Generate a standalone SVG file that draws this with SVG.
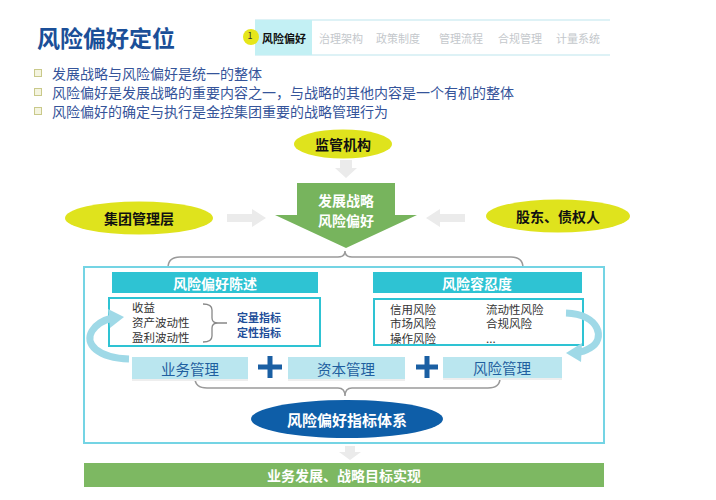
<svg xmlns="http://www.w3.org/2000/svg" width="716" height="500" viewBox="0 0 716 500">
<style>
text{font-family:"Noto Sans CJK SC","Noto Sans",sans-serif;dominant-baseline:central}
.t{font-size:23px;font-weight:bold;fill:#1b4f98}
.tab{font-size:11px;fill:#c4c8cc;text-anchor:middle}
.bul{font-size:14px;fill:#35549a}
.bsq{fill:#f4f4e0;stroke:#c9c98a;stroke-width:1}
.yel{fill:#dfe31d}
.yt{font-size:14px;font-weight:bold;fill:#111;text-anchor:middle}
.garr{fill:#ebebeb}
.wt{font-weight:bold;fill:#fff;text-anchor:middle}
.hdr{fill:#2ec3d3}
.cbox{fill:#fff;stroke:#2ec3d3;stroke-width:2}
.ct{font-size:11.5px;fill:#333}
.ind{font-size:11px;font-weight:bold;fill:#1f4e9a}
.lb{fill:#bae6ef}
.lbt{font-size:14.5px;fill:#1f5f9f;text-anchor:middle}
.plus{fill:#1a5fa3}
.brace{fill:none;stroke:#9a9a9a;stroke-width:1.5}
.curl{fill:none;stroke:#9fd9e7;stroke-width:7}
.curlh{fill:#9fd9e7}
</style>
<g id="title"><text class="t" x="37" y="37">风险偏好定位</text></g>
<g id="tabs">
<line x1="255" y1="20" x2="610" y2="20" stroke="#d3eef3" stroke-width="1.5"/>
<line x1="255" y1="55" x2="610" y2="55" stroke="#d3eef3" stroke-width="1.5"/>
<rect x="255" y="20" width="57" height="35" fill="#c3f0f4"/>
<circle cx="251" cy="37" r="8" fill="#e6e61a"/>
<text x="250" y="35" font-size="9" fill="#333" text-anchor="middle">1</text>
<text x="284" y="38" font-size="11" font-weight="bold" fill="#111" text-anchor="middle">风险偏好</text>
<text class="tab" x="341" y="38">治理架构</text>
<text class="tab" x="398" y="38">政策制度</text>
<text class="tab" x="461" y="38">管理流程</text>
<text class="tab" x="520" y="38">合规管理</text>
<text class="tab" x="578" y="38">计量系统</text>
</g>
<g id="bullets">
<rect class="bsq" x="34.5" y="69.5" width="7" height="7"/>
<rect class="bsq" x="34.5" y="88.5" width="7" height="7"/>
<rect class="bsq" x="34.5" y="107.5" width="7" height="7"/>
<text class="bul" x="52" y="73">发展战略与风险偏好是统一的整体</text>
<text class="bul" x="52" y="92">风险偏好是发展战略的重要内容之一，与战略的其他内容是一个有机的整体</text>
<text class="bul" x="52" y="111">风险偏好的确定与执行是金控集团重要的战略管理行为</text>
</g>
<g id="connectors">
<polygon class="garr" points="340,160 352,160 352,168 357,168 346,178 335,168 340,168"/>
<polygon class="garr" points="227,214 252,214 252,209 266,218 252,227 252,222 227,222"/>
<polygon class="garr" points="465,214 440,214 440,209 426,218 440,227 440,222 465,222"/>
<path class="brace" d="M168 268 Q168 257 180 257 L338 257 Q345 257 345 251 Q345 257 352 257 L511 257 Q523 257 523 268"/>
<polygon class="garr" points="345,446 355,446 355,452 361,452 350,460 339,452 345,452"/>
</g>
<g id="n-regulator"><ellipse class="yel" cx="343" cy="144" rx="49" ry="14.5"/><text class="yt" x="343" y="144">监管机构</text></g>
<g id="n-mgmt"><ellipse class="yel" cx="139" cy="218" rx="74" ry="16.5"/><text class="yt" x="139" y="218">集团管理层</text></g>
<g id="n-holders"><ellipse class="yel" cx="558" cy="216" rx="72" ry="16.5"/><text class="yt" x="558" y="216">股东、债权人</text></g>
<g id="n-strategy">
<polygon points="297,183 395,183 395,215 417,215 346,248 275,215 297,215" fill="#77b45d"/>
<text class="wt" x="346" y="200" font-size="14"><tspan x="346">发展战略</tspan><tspan x="346" dy="19.5">风险偏好</tspan></text>
</g>
<g id="frame">
<rect x="84" y="267" width="520" height="176" fill="#fff" stroke="#74d4e4" stroke-width="2"/>
<path class="brace" d="M195 378 Q195 388 207 388 L338 388 Q345 388 345 396 Q345 388 352 388 L488 388 Q500 388 500 378"/>
</g>
<g id="n-statement">
<rect class="hdr" x="112" y="272" width="206" height="21"/>
<text class="wt" x="215" y="283" font-size="14">风险偏好陈述</text>
<rect class="cbox" x="109" y="298" width="211" height="48"/>
<text class="ct" x="132" y="307"><tspan x="132">收益</tspan><tspan x="132" dy="15">资产波动性</tspan><tspan x="132" dy="15">盈利波动性</tspan></text>
<path d="M203 304 Q212 304 212 310 L212 318 Q212 323 218 323 L227 323 M218 323 Q212 323 212 328 L212 336 Q212 342 203 342" fill="none" stroke="#888" stroke-width="1.3"/>
<text class="ind" x="237" y="316.5"><tspan x="237">定量指标</tspan><tspan x="237" dy="15.5">定性指标</tspan></text>
</g>
<g id="n-tolerance">
<rect class="hdr" x="373" y="272" width="209" height="21"/>
<text class="wt" x="477" y="283" font-size="14">风险容忍度</text>
<rect class="cbox" x="374" y="299" width="209" height="46"/>
<text class="ct" x="390" y="308.5"><tspan x="390">信用风险</tspan><tspan x="390" dy="14.5">市场风险</tspan><tspan x="390" dy="14.5">操作风险</tspan></text>
<text class="ct" x="486" y="308.5"><tspan x="486">流动性风险</tspan><tspan x="486" dy="14.5">合规风险</tspan><tspan x="486" dy="14.5">...</tspan></text>
</g>
<g id="curl-left">
<path class="curl" d="M129 359 C98 358 84 344 92 331 C97 323 104 320 112 318"/>
<polygon class="curlh" points="108,309 124,317 110,328"/>
</g>
<g id="curl-right">
<path class="curl" d="M566 313 C600 314 606 340 590 348 C585 351 580 352 578 352"/>
<polygon class="curlh" points="582,343 566,353 581,362"/>
</g>
<g id="n-business"><rect x="132" y="379" width="116" height="2" fill="#eee"/><rect class="lb" x="132" y="357" width="116" height="22"/><text class="lbt" x="190" y="368">业务管理</text></g>
<g id="n-capital"><rect x="288" y="379" width="117" height="2" fill="#eee"/><rect class="lb" x="288" y="357" width="117" height="22"/><text class="lbt" x="346" y="368">资本管理</text></g>
<g id="n-risk"><rect x="443" y="378" width="119" height="2" fill="#eee"/><rect class="lb" x="443" y="357" width="119" height="21"/><text class="lbt" x="502" y="367">风险管理</text></g>
<g id="plus1"><rect class="plus" x="258" y="364.5" width="24" height="5"/><rect class="plus" x="267.5" y="356" width="5" height="22"/></g>
<g id="plus2"><rect class="plus" x="416" y="364.5" width="22" height="5"/><rect class="plus" x="424.5" y="356" width="5" height="22"/></g>
<g id="n-indicator"><ellipse cx="347" cy="419" rx="96" ry="19" fill="#0e5ea8"/><text class="wt" x="347" y="419" font-size="15">风险偏好指标体系</text></g>
<g id="n-goal"><rect x="84" y="463" width="520" height="24" fill="#7db862"/><text class="wt" x="344" y="475" font-size="14">业务发展、战略目标实现</text></g>
</svg>
